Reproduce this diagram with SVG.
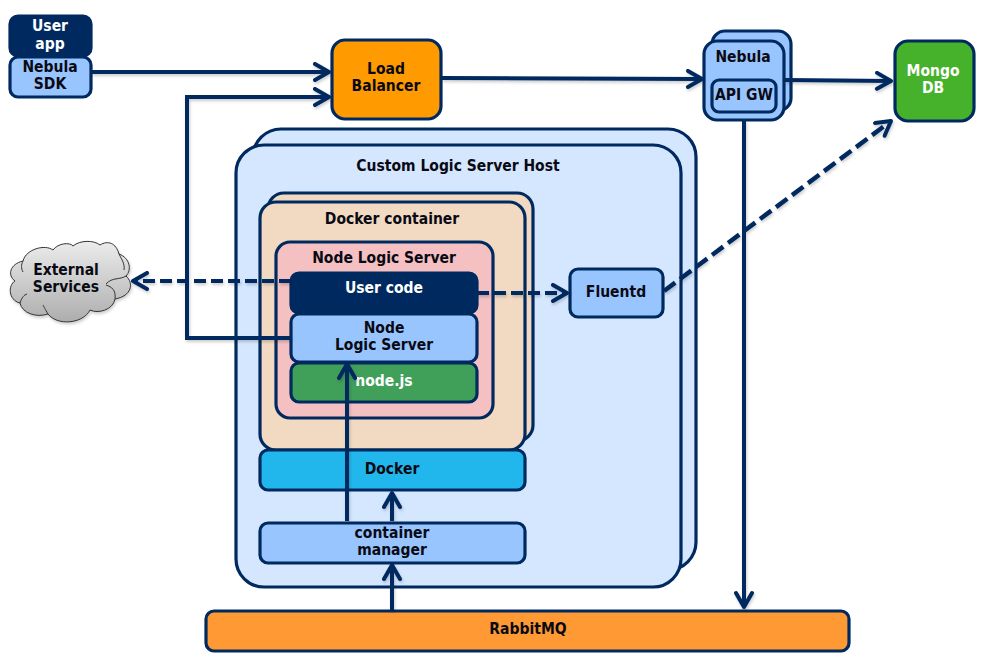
<svg xmlns="http://www.w3.org/2000/svg" width="984" height="659" viewBox="0 0 984 659">
<style>
.b{stroke:#002a5f;stroke-width:3.2}
.blue{fill:#99c5ff}
text{font-family:"DejaVu Sans",sans-serif;font-weight:bold;font-stretch:condensed;font-size:15.5px;text-anchor:middle;fill:#0a0a14}
.w{fill:#fff}
.c{fill:none;stroke:#002a5f;stroke-width:4}
.d{stroke-dasharray:12 5}
.e{stroke-width:4.5;stroke-dasharray:14 6}
</style>
<defs>
<linearGradient id="cg" x1="0" y1="0" x2="0" y2="1"><stop offset="0" stop-color="#ececec"/><stop offset="1" stop-color="#adadad"/></linearGradient>
<filter id="s" x="-10%" y="-10%" width="120%" height="120%"><feDropShadow dx="1" dy="2" stdDeviation="1.5" flood-color="#000" flood-opacity="0.2"/></filter>
<marker id="ah" viewBox="0 0 20 20" refX="17" refY="10" markerWidth="20" markerHeight="20" markerUnits="userSpaceOnUse" orient="auto"><path d="M3 2L17 10L3 18" fill="none" stroke="#002a5f" stroke-width="4" stroke-linecap="round" stroke-linejoin="round"/></marker>
</defs>
<g id="host"><rect class="b" x="253" y="129" width="443" height="441" rx="28" fill="#d5e7ff"/><rect class="b" x="236" y="145" width="445" height="442" rx="28" fill="#d5e7ff"/><text x="458" y="171">Custom Logic Server Host</text></g>
<g id="docker-container"><rect class="b" x="268" y="193" width="265" height="248" rx="16" fill="#f2dac2"/><rect class="b" x="260" y="202" width="265" height="248" rx="16" fill="#f2dac2"/><text x="392" y="224">Docker container</text></g>
<g id="node-logic-server"><rect class="b" x="276" y="242" width="217" height="176" rx="14" fill="#f4c0c2"/><text x="384" y="263">Node Logic Server</text></g>
<g id="nodejs"><rect class="b" x="291" y="363" width="186" height="39" rx="8" fill="#40a05a"/><text class="w" x="384" y="386">node.js</text></g>
<g id="nls"><rect class="b blue" x="291" y="314" width="186" height="48" rx="8"/><text x="384" y="333">Node</text><text x="384" y="350">Logic Server</text></g>
<g id="user-code"><rect class="b" x="291" y="273" width="186" height="40" rx="8" fill="#002a5f"/><text class="w" x="384" y="293">User code</text></g>
<g id="docker"><rect class="b" x="260" y="450" width="265" height="40" rx="8" fill="#22b7ec"/><text x="392" y="474">Docker</text></g>
<g id="container-manager"><rect class="b blue" x="260" y="523" width="265" height="40" rx="8"/><text x="392" y="538">container</text><text x="392" y="555">manager</text></g>
<g id="fluentd"><rect class="b blue" x="570" y="269" width="93" height="48" rx="8"/><text x="616" y="297">Fluentd</text></g>
<g id="rabbitmq"><rect class="b" x="206" y="611" width="643" height="40" rx="8" fill="#ff9933"/><text x="528" y="634">RabbitMQ</text></g>
<g id="user-app"><rect class="b" x="10" y="16" width="81" height="40" rx="8" fill="#002a5f"/><text class="w" x="50" y="31">User</text><text class="w" x="50" y="49">app</text></g>
<g id="nebula-sdk"><rect class="b blue" x="10" y="57" width="81" height="40" rx="8"/><text x="50" y="72">Nebula</text><text x="50" y="89">SDK</text></g>
<g id="load-balancer"><rect class="b" x="332" y="40" width="109" height="79" rx="13" fill="#ff9a00"/><text x="386" y="74">Load</text><text x="386" y="91">Balancer</text></g>
<g id="nebula"><rect class="b blue" x="712" y="31" width="79" height="80" rx="13"/><rect class="b blue" x="704" y="41" width="80" height="79" rx="13"/><text x="743" y="62">Nebula</text><rect class="b blue" x="712" y="80" width="64" height="32" rx="7"/><text x="744" y="100">API GW</text></g>
<g id="mongodb"><rect class="b" x="895" y="41" width="79" height="80" rx="13" fill="#46b12a"/><text class="w" x="933" y="76">Mongo</text><text class="w" x="933" y="93">DB</text></g>
<g id="external-services"><path d="M23 261C26 249 45 244 53 250C58 243 70 242 73 246C80 240 94 240 100 245C108 240 116 243 119 254C130 258 132 270 126 276C134 283 132 296 115 299C113 310 98 314 90 310C83 324 57 326 48 314C36 318 22 313 20 303C8 300 8 285 15 281C7 275 10 264 23 261Z" fill="url(#cg)" stroke="#333" stroke-width="1" filter="url(#s)"/><path d="M23 261C21 265 21 268 23 272M119 254C122 260 125 264 124 270M126 276C120 280 112 277 106 284M115 299C116 290 112 287 106 285M20 303C22 297 24 295 27 294M48 314C45 309 44 307 43 305" fill="none" stroke="#333"/><text x="66" y="275">External</text><text x="66" y="292">Services</text></g>
<g id="connectors" filter="url(#s)">
<path class="c" d="M91 72H329" marker-end="url(#ah)"/>
<path class="c" d="M291 338H187V97H329" marker-end="url(#ah)"/>
<path class="c" d="M442 78L702 79" marker-end="url(#ah)"/>
<path class="c" d="M785 80L891 81" marker-end="url(#ah)"/>
<path class="c d" d="M291 281H133" marker-end="url(#ah)"/>
<path class="c d" d="M477 293H567" marker-end="url(#ah)"/>
<path class="c e" d="M664 291L891 121" marker-end="url(#ah)"/>
<path class="c" d="M744 120V607" marker-end="url(#ah)"/>
<path class="c" d="M347 521V364" marker-end="url(#ah)"/>
<path class="c" d="M392 521V493" marker-end="url(#ah)"/>
<path class="c" d="M392 610V565" marker-end="url(#ah)"/>
</g>
</svg>
